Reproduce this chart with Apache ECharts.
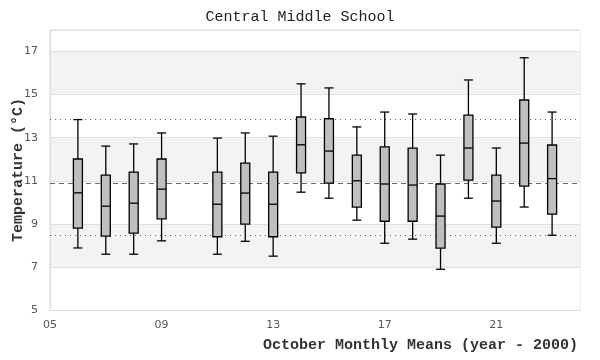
<!DOCTYPE html>
<html>
<head>
<meta charset="utf-8">
<script src="https://cdn.jsdelivr.net/npm/echarts@6/dist/echarts.min.js"></script>
<style>html,body{margin:0;padding:0;background:#fff}#c{width:600px;height:360px}</style>
</head>
<body>
<div id="c"></div>
<script>
const years      = [6, 7, 8, 9, 11, 12, 13, 14, 15, 16, 17, 18, 19, 20, 21, 22, 23];
const whiskerLow = [7.88, 7.59, 7.59, 8.21, 7.59, 8.19, 7.50, 10.47, 10.19, 9.17, 8.10, 8.29, 6.89, 10.19, 8.10, 9.78, 8.47];
const q1         = [8.80, 8.43, 8.57, 9.23, 8.40, 8.99, 8.40, 11.37, 10.89, 9.78, 9.12, 9.12, 7.87, 11.03, 8.85, 10.75, 9.45];
const median     = [10.44, 9.82, 9.96, 10.61, 9.91, 10.43, 9.91, 12.67, 12.38, 11.00, 10.85, 10.80, 9.36, 12.52, 10.06, 12.75, 11.10];
const q3         = [12.01, 11.26, 11.40, 12.01, 11.40, 11.82, 11.40, 13.96, 13.88, 12.19, 12.57, 12.52, 10.85, 14.05, 11.26, 14.75, 12.66];
const whiskerHigh= [13.84, 12.61, 12.71, 13.22, 12.98, 13.22, 13.07, 15.50, 15.31, 13.50, 14.19, 14.10, 12.19, 15.68, 12.52, 16.71, 14.19];
const refUpper = 13.84;
const refMid = 10.90;
const refLower = 8.49;
const xTicks = { min: 5, max: 24, interval: 4 };
const yTicks = { min: 5, max: 18, interval: 2 };

const boxData = years.map((y, i) => [y, whiskerLow[i], q1[i], median[i], q3[i], whiskerHigh[i]]);

const mono = '"Liberation Mono", "DejaVu Sans Mono", monospace';
const sans = '"DejaVu Sans", "Liberation Sans", sans-serif';

function renderItem(params, api) {
  const x = api.value(0);
  const pLo = api.coord([x, api.value(1)]);
  const pQ1 = api.coord([x, api.value(2)]);
  const pMed = api.coord([x, api.value(3)]);
  const pQ3 = api.coord([x, api.value(4)]);
  const pHi = api.coord([x, api.value(5)]);
  const half = 4.5;
  const cx = pMed[0];
  const st = { stroke: '#000', lineWidth: 1.3, fill: null };
  return {
    type: 'group',
    children: [
      { type: 'line', shape: { x1: cx, y1: pHi[1], x2: cx, y2: pQ3[1] }, style: st },
      { type: 'line', shape: { x1: cx, y1: pQ1[1], x2: cx, y2: pLo[1] }, style: st },
      { type: 'line', shape: { x1: cx - half, y1: pHi[1], x2: cx + half, y2: pHi[1] }, style: st },
      { type: 'line', shape: { x1: cx - half, y1: pLo[1], x2: cx + half, y2: pLo[1] }, style: st },
      { type: 'rect', shape: { x: cx - half, y: pQ3[1], width: half * 2, height: pQ1[1] - pQ3[1] },
        style: { fill: '#bfbfbf', stroke: '#000', lineWidth: 1.3 } },
      { type: 'line', shape: { x1: cx - half, y1: pMed[1], x2: cx + half, y2: pMed[1] }, style: st }
    ]
  };
}

const chart = echarts.init(document.getElementById('c'), null, { renderer: 'canvas' });
chart.setOption({
  animation: false,
  backgroundColor: '#fff',
  title: {
    text: 'Central Middle School',
    left: 'center',
    top: 5,
    textStyle: { fontFamily: mono, fontSize: 15, fontWeight: 'normal', color: '#222' }
  },
  grid: { left: 50, right: 20, top: 30, bottom: 50, containLabel: false, outerBoundsMode: 'none',
    show: true, borderColor: '#dcdcdc', borderWidth: 1, backgroundColor: 'transparent' },
  xAxis: {
    type: 'value',
    min: xTicks.min, max: xTicks.max, interval: xTicks.interval,
    name: 'October Monthly Means (year - 2000)',
    nameLocation: 'end',
    nameGap: -2,
    nameMoveOverlap: false,
    nameTextStyle: { fontFamily: mono, fontSize: 15, fontWeight: 'bold', color: '#333', align: 'right', verticalAlign: 'top', padding: [28, 0, 0, 0] },
    axisLine: { show: true, lineStyle: { color: '#dcdcdc' } },
    axisTick: { show: false },
    splitLine: { show: false },
    axisLabel: { showMaxLabel: false, fontFamily: sans, fontSize: 11, color: '#555', margin: 10,
      formatter: v => String(v).padStart(2, '0') }
  },
  yAxis: {
    type: 'value',
    min: yTicks.min, max: yTicks.max, interval: yTicks.interval,
    name: 'Temperature (°C)',
    nameLocation: 'middle',
    nameGap: 24,
    nameMoveOverlap: false,
    nameTextStyle: { fontFamily: mono, fontSize: 15, fontWeight: 'bold', color: '#333' },
    axisLine: { show: true, lineStyle: { color: '#dcdcdc' } },
    axisTick: { show: false },
    splitLine: { show: true, lineStyle: { color: '#e0e0e0' } },
    splitArea: { show: true, areaStyle: { color: ['#ffffff', '#f3f3f3'] } },
    axisLabel: { showMaxLabel: false, fontFamily: sans, fontSize: 11, color: '#555', margin: 12 }
  },
  series: [
    {
      type: 'line',
      data: [],
      silent: true,
      markLine: {
        silent: true,
        symbol: 'none',
        label: { show: false },
        data: [
          { yAxis: refUpper, lineStyle: { type: [1, 4], color: '#666', width: 1.2 } },
          { yAxis: refMid, lineStyle: { type: [5, 4], color: '#666', width: 1.2 } },
          { yAxis: refLower, lineStyle: { type: [1, 4], color: '#666', width: 1.2 } }
        ]
      }
    },
    {
      type: 'custom',
      renderItem: renderItem,
      data: boxData,
      encode: { x: 0, y: [1, 2, 3, 4, 5] },
      z: 5
    }
  ]
});
</script>
</body>
</html>
